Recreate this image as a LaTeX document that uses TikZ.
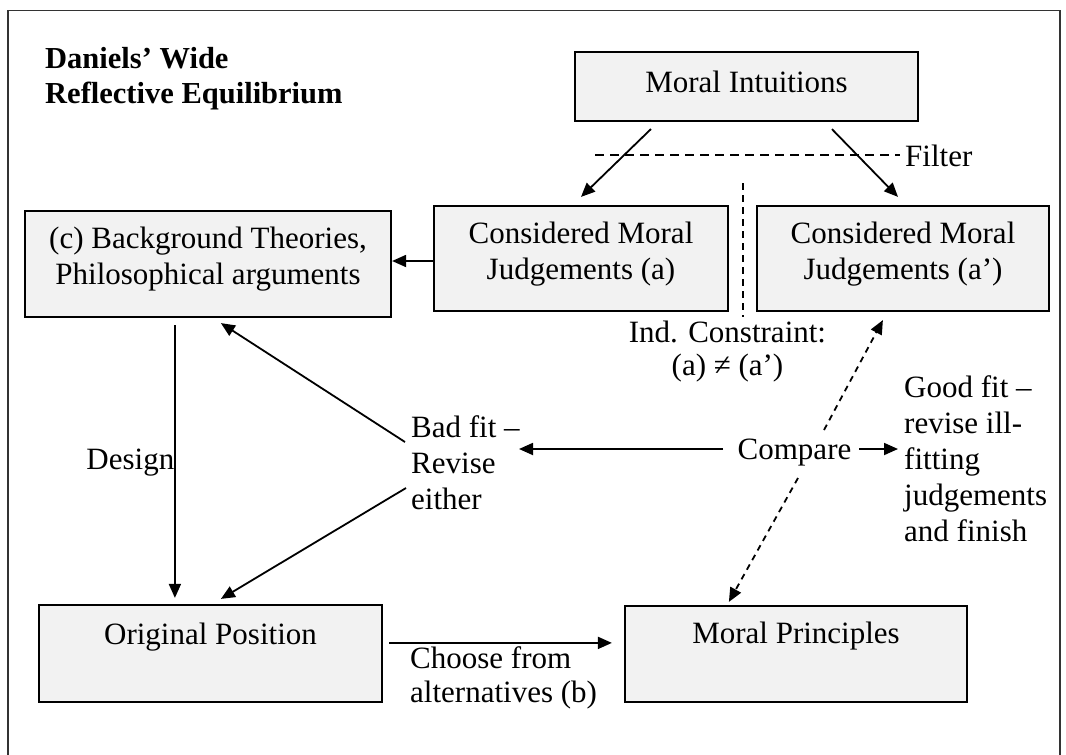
\documentclass[tikz,border=0pt]{standalone}
\usepackage{fontspec}
\setmainfont{Liberation Serif}
\usetikzlibrary{arrows.meta,calc}
\definecolor{boxfill}{HTML}{F2F2F2}
\definecolor{framecol}{HTML}{333333}
\tikzset{
  bigfont/.style={font=\fontsize{31}{36}\selectfont},
  box/.style={draw=black, line width=2.2pt, fill=boxfill, inner sep=0pt, align=center, bigfont},
  onebox/.style={box, text height=21pt},
  twobox/.style={box, text height=57pt, text depth=16pt},
  txt/.style={inner sep=0pt, bigfont},
  arr/.style={line width=1.8pt, -{Triangle[length=14pt,width=12pt]}},
  darr/.style={arr, dash pattern=on 6pt off 5pt},
  filterline/.style={line width=1.8pt, dash pattern=on 9pt off 6pt},
  indline/.style={line width=1.8pt, dash pattern=on 7pt off 5pt},
  framel/.style={draw=framecol, line width=1.8pt}
}
\begin{document}
\begin{tikzpicture}[x=1pt,y=-1pt]
\useasboundingbox (0,0) rectangle (1066,755);
\fill[white] (0,0) rectangle (1066,755);
% frame (open at the bottom, as in the picture)
\draw[framel] (8,757) -- (8,10.5) -- (1060,10.5) -- (1060,757);

% title (base = last line)
\node[txt, anchor=base west, align=left, font=\bfseries\fontsize{30.5}{35}\selectfont] (title) at (45,103) {Daniels’ Wide\\Reflective Equilibrium};

% boxes
\node[onebox, text depth=10pt, minimum width=343pt, minimum height=69pt] (mi) at (746.5,86.5) {Moral Intuitions};
\node[twobox, minimum width=366pt, minimum height=106pt] (bg) at (208,264) {(c) Background Theories,\\Philosophical arguments};
\node[twobox, minimum width=294pt, minimum height=105pt] (cmja) at (581,258.5) {Considered Moral\\Judgements (a)};
\node[twobox, minimum width=292pt, minimum height=105pt] (cmjb) at (903,258.5) {Considered Moral\\Judgements (a’)};
\node[onebox, text depth=40pt, minimum width=343pt, minimum height=97pt] (op) at (210.5,653.5) {Original Position};
\node[onebox, text depth=42pt, minimum width=342pt, minimum height=96pt] (mp) at (796,654) {Moral Principles};

% labels (multi-line: base = last line)
\node[txt, anchor=base west] (filter) at (905,166) {Filter};
\node[txt, anchor=base, align=center, font=\fontsize{31}{33}\selectfont] (ind) at (727.5,375) {Ind. Constraint:\\(a) ≠ (a’)};
\node[txt, anchor=base east] (design) at (174.5,469) {Design};
\node[txt, anchor=base west, align=left] (badfit) at (411,509) {Bad fit –\\Revise\\either};
\node[txt, anchor=base] (compare) at (794.5,459) {Compare};
\node[txt, anchor=base west, align=left] (goodfit) at (904,541) {Good fit –\\revise ill-\\fitting\\judgements\\and finish};
\node[txt, anchor=base west, align=left, font=\fontsize{31}{34}\selectfont] (choose) at (410,702) {Choose from\\alternatives (b)};

% free ends of connectors
\coordinate (fstart) at (595,155);
\coordinate (indtop) at (743,183);
\coordinate (indbot) at (743,317);
\coordinate (bfup) at (405,442);
\coordinate (bfdn) at (406,488);
\coordinate (bfright) at (519,449);
\coordinate (cmpleft) at (723,449);
\coordinate (cmpright) at (859,449);
\coordinate (gfleft) at (898,449);
\coordinate (cmpup) at (824,430);
\coordinate (cmpdn) at (798,478);

% filter and independence constraint
\draw[filterline] (fstart) -- ($(filter.west |- fstart)+(-5,0)$);
\draw[indline] (indtop) -- (indbot);

% intuitions to judgements
\draw[arr] ($(mi.south west)+(77,7)$) -- ($(cmja.north)+(0,-8)$);
\draw[arr] ($(mi.south west)+(258,7)$) -- ($(cmjb.north)+(-5,-8)$);

% judgements (a) to background theories
\draw[arr] (cmja.west |- 0,261) -- (bg.east |- 0,261);

% design
\draw[arr] ($(bg.south west)+(151,7)$) -- ($(op.north west)+(137,-6)$);

% bad fit - revise either
\draw[arr] (bfup) -- ($(bg.south west)+(197,5)$);
\draw[arr] (bfdn) -- ($(op.north west)+(183,-5)$);

% compare
\draw[arr] (cmpleft) -- (bfright);
\draw[arr] (cmpright) -- (gfleft);
\draw[darr] (cmpup) -- ($(cmjb.south west)+(127,8)$);
\draw[darr] (cmpdn) -- ($(mp.north west)+(105,-3)$);

% choose
\draw[arr] ($(op.north east)+(6,39)$) -- ($(mp.north west)+(-12,38)$);
\end{tikzpicture}
\end{document}
